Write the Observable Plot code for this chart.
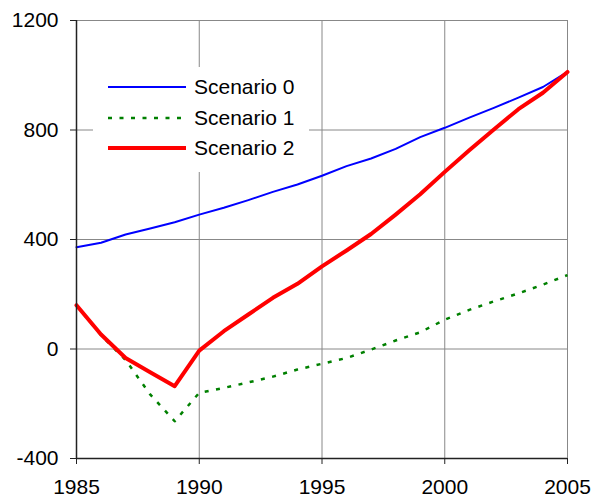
<!DOCTYPE html>
<html>
<head>
<meta charset="utf-8">
<script src="https://cdn.jsdelivr.net/npm/d3@7"></script>
<script src="https://cdn.jsdelivr.net/npm/@observablehq/plot@0.6"></script>
<style>
  html, body { margin: 0; padding: 0; background: white; }
  #wrap { position: relative; width: 608px; height: 500px; font-family: "Liberation Sans", Arial, sans-serif; }
  #legend { position: absolute; left: 93px; top: 67px; width: 216px; height: 105px; background: white; }
  .row { position: absolute; left: 0; height: 30px; display: flex; align-items: center; }
  .row svg { margin-left: 15px; }
  .row span { margin-left: 8px; font-size: 21px; color: black; white-space: nowrap; }
</style>
</head>
<body>
<div id="wrap"></div>
<script>
const years = [1985, 1986, 1987, 1988, 1989, 1990, 1991, 1992, 1993, 1994, 1995,
               1996, 1997, 1998, 1999, 2000, 2001, 2002, 2003, 2004, 2005];
const scenario0 = [372, 388, 418, 440, 463, 491, 516, 544, 574, 601, 633,
                   668, 696, 731, 774, 808, 845, 881, 918, 957, 1012];
const scenario1 = [160, 50, -40, -166, -264, -160, -142, -122, -101, -75, -54,
                   -33, -2, 31, 61, 107, 143, 174, 203, 235, 270];
const scenario2 = [160, 53, -33, -85, -136, -6, 65, 126, 187, 238, 302,
                   360, 420, 491, 565, 647, 726, 802, 876, 936, 1012];
const seriesNames = ["Scenario 0", "Scenario 1", "Scenario 2"];
const xTicks = [1985, 1990, 1995, 2000, 2005];
const yTicks = [-400, 0, 400, 800, 1200];

const styles = [
  {stroke: "#0000ff", strokeWidth: 2, dash: null},
  {stroke: "#008000", strokeWidth: 2.5, dash: "4,7.5"},
  {stroke: "#ff0000", strokeWidth: 4, dash: null}
];
const seriesValues = [scenario0, scenario1, scenario2];
const tables = seriesValues.map(vals => years.map((yr, i) => ({year: yr, value: vals[i]})));

const lineMarks = tables.map((t, k) => Plot.line(t, {
  x: "year", y: "value",
  stroke: styles[k].stroke, strokeWidth: styles[k].strokeWidth,
  strokeDasharray: styles[k].dash || undefined,
  strokeLinecap: styles[k].dash ? "butt" : "round",
  strokeLinejoin: "round"
}));

const fmt = d => String(d);
const chart = Plot.plot({
  width: 608, height: 500,
  marginLeft: 76, marginRight: 41, marginTop: 20, marginBottom: 42,
  x: {domain: [1985, 2005]},
  y: {domain: [-400, 1200]},
  style: {fontFamily: '"Liberation Sans", Arial, sans-serif', fontSize: "21px", background: "white", color: "black", overflow: "visible"},
  marks: [
    Plot.gridX(xTicks.slice(1), {stroke: "#888", strokeOpacity: 1, strokeWidth: 1}),
    Plot.gridY(yTicks.slice(1), {stroke: "#888", strokeOpacity: 1, strokeWidth: 1}),
    lineMarks[0], lineMarks[1], lineMarks[2],
    Plot.ruleX([1985], {stroke: "#222", strokeWidth: 1.5}),
    Plot.ruleY([-400], {stroke: "#222", strokeWidth: 1.5}),
    Plot.axisY(yTicks, {tickSize: 6, tickPadding: 12, tickFormat: fmt, label: null, stroke: "#222", fill: "black"}),
    Plot.axisX(xTicks, {tickSize: 6, tickPadding: 15, tickFormat: fmt, label: null, stroke: "#222", fill: "black"})
  ]
});

const wrap = document.getElementById("wrap");
wrap.appendChild(chart);

const legend = document.createElement("div");
legend.id = "legend";
const rowTops = [5, 36, 66];
seriesNames.forEach((name, k) => {
  const row = document.createElement("div");
  row.className = "row";
  row.style.top = rowTops[k] + "px";
  const s = styles[k];
  row.innerHTML = `<svg width="78" height="10"><line x1="0" x2="78" y1="5" y2="5" stroke="${s.stroke}" stroke-width="${s.strokeWidth}" ${s.dash ? `stroke-dasharray="${s.dash}"` : ""}/></svg><span>${name}</span>`;
  legend.appendChild(row);
});
wrap.appendChild(legend);
</script>
</body>
</html>
